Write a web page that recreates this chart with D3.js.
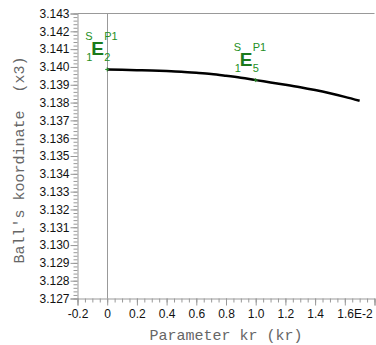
<!DOCTYPE html>
<html>
<head>
<meta charset="utf-8">
<script src="https://cdn.jsdelivr.net/npm/d3@7"></script>
<style>
  body { margin: 0; background: #fff; }
  svg { display: block; }
</style>
</head>
<body>
<div id="chart"></div>
<script>
// curve samples (kr, x3)
const krValues = [0, 0.1, 0.2, 0.3, 0.4, 0.5, 0.6, 0.7, 0.8, 0.9, 1.0, 1.1, 1.2, 1.3, 1.4, 1.5, 1.6, 1.7];
const x3Values = [3.13986, 3.13984, 3.13982, 3.13980, 3.13977, 3.13973, 3.13967, 3.13960, 3.13950, 3.13939, 3.13926,
                  3.13913, 3.13900, 3.13886, 3.13870, 3.13852, 3.13832, 3.13810];

// labelled points
const markKr = [0, 1.0];
const markX3 = [3.13986, 3.13926];
const markSub = ["2", "5"];

const yTicks = d3.range(3.127, 3.1435, 0.001);
const xTicks = [-0.2, 0, 0.2, 0.4, 0.6, 0.8, 1.0, 1.2, 1.4, 1.6, 1.8];
const xTickLabels = ["-0.2", "0", "0.2", "0.4", "0.6", "0.8", "1.0", "1.2", "1.4", "1.6E-2", ""];

const width = 376, height = 345;
const margin = { left: 77.5, right: 1.5, top: 13.5, bottom: 46.5 };

const sansFont = "'Liberation Sans', Arial, sans-serif";
const monoFont = "'Liberation Mono', 'Courier New', monospace";

const svg = d3.select("#chart").append("svg")
  .attr("width", width)
  .attr("height", height);

const x = d3.scaleLinear().domain([-0.2, 1.8]).range([margin.left, width - margin.right]);
const y = d3.scaleLinear().domain([3.127, 3.143]).range([height - margin.bottom, margin.top]);

const axisColor = "#999";
const green = "#248f24";

// top frame line
svg.append("line")
  .attr("x1", x(-0.2)).attr("x2", x(1.8))
  .attr("y1", y(3.143)).attr("y2", y(3.143))
  .attr("stroke", axisColor);

// zero line
svg.append("line")
  .attr("x1", Math.round(x(0)) + 0.5).attr("x2", Math.round(x(0)) + 0.5)
  .attr("y1", y(3.143)).attr("y2", y(3.127))
  .attr("stroke", axisColor);

// y axis: minor ticks then major
const yMinor = d3.range(0, 81).map(i => 3.127 + i * 0.0002);
const yAxisG = svg.append("g").attr("transform", `translate(${margin.left},0)`);
yAxisG.append("g")
  .call(d3.axisLeft(y).tickValues(yMinor).tickSize(4).tickFormat(""))
  .call(g => g.select(".domain").remove());
yAxisG.append("g")
  .call(d3.axisLeft(y).tickValues(yTicks).tickSize(7).tickPadding(1).tickFormat(d3.format(".3f")));
yAxisG.selectAll("line").attr("stroke", axisColor);
yAxisG.selectAll(".domain").attr("stroke", axisColor);
yAxisG.selectAll("text")
  .attr("font-family", sansFont)
  .attr("font-size", 12)
  .attr("fill", "#111");

// x axis
const xMinor = d3.range(0, 41).map(i => -0.2 + i * 0.05);
const xAxisG = svg.append("g").attr("transform", `translate(0,${height - margin.bottom})`);
xAxisG.append("g")
  .call(d3.axisBottom(x).tickValues(xMinor).tickSize(4).tickFormat(""))
  .call(g => g.select(".domain").remove());
xAxisG.append("g")
  .call(d3.axisBottom(x).tickValues(xTicks).tickSize(7).tickPadding(4)
    .tickFormat((d, i) => xTickLabels[i]));
xAxisG.selectAll("line").attr("stroke", axisColor);
xAxisG.selectAll(".domain").attr("stroke", axisColor);
xAxisG.selectAll("text")
  .attr("font-family", sansFont)
  .attr("font-size", 12)
  .attr("fill", "#111");
// the "E-2" suffix hangs to the right of the 1.6 tick
xAxisG.selectAll(".tick text")
  .filter(d => d === 1.6)
  .attr("text-anchor", "start")
  .attr("dx", -8);

// axis titles
svg.append("text")
  .attr("x", 226).attr("y", 340)
  .attr("text-anchor", "middle")
  .attr("font-family", monoFont)
  .attr("font-size", 15)
  .attr("fill", "#666")
  .text("Parameter kr (kr)");

svg.append("text")
  .attr("transform", "translate(24,160) rotate(-90)")
  .attr("text-anchor", "middle")
  .attr("font-family", monoFont)
  .attr("font-size", 15)
  .attr("fill", "#666")
  .attr("xml:space", "preserve")
  .style("white-space", "pre")
  .text("Ball's koordinate  (x3)");

// curve
const line = d3.line()
  .x((d, i) => x(krValues[i]))
  .y(d => y(d))
  .curve(d3.curveMonotoneX);

svg.append("path")
  .datum(x3Values)
  .attr("d", line)
  .attr("fill", "none")
  .attr("stroke", "#000")
  .attr("stroke-width", 2.5);

// point labels
const marks = svg.append("g").selectAll("g")
  .data(markKr)
  .join("g")
  .attr("transform", (d, i) => `translate(${x(d)},${y(markX3[i])})`)
  .attr("fill", green)
  .attr("font-family", sansFont);

marks.append("path")
  .attr("d", "M-2,0H2M0,-2V2")
  .attr("stroke", green)
  .attr("stroke-width", 1);

marks.append("text")
  .attr("x", -16).attr("y", -14)
  .attr("font-size", 19)
  .attr("font-weight", "bold")
  .attr("fill", "#1b7a1b")
  .text("E");
marks.append("text")
  .attr("x", -22).attr("y", -29)
  .attr("font-size", 11)
  .text("S");
marks.append("text")
  .attr("x", -3).attr("y", -29)
  .attr("font-size", 11)
  .text("P1");
marks.append("text")
  .attr("x", -21).attr("y", -8)
  .attr("font-size", 11)
  .text("1");
marks.append("text")
  .attr("x", -3).attr("y", -8)
  .attr("font-size", 11)
  .text((d, i) => markSub[i]);
</script>
</body>
</html>
